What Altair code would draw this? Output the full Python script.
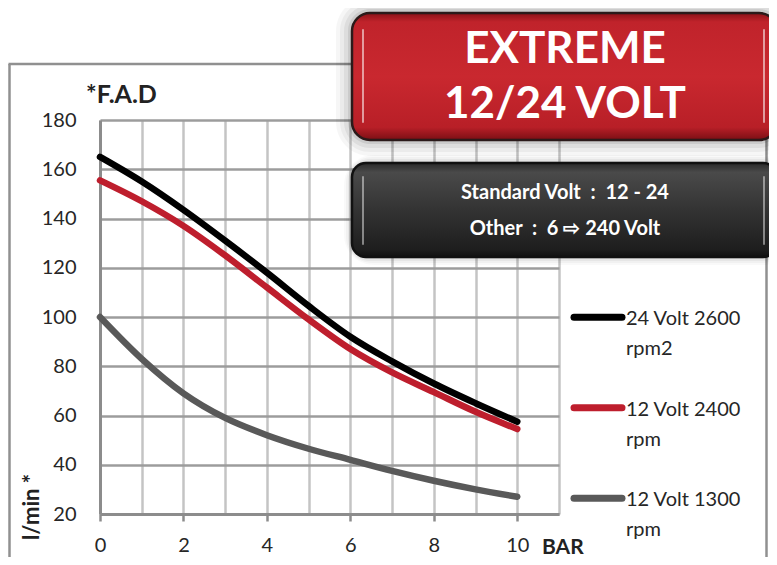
import altair as alt
import pandas as pd

# ---------------- data ----------------
pressure_bar = list(range(11))
series = ["24 Volt 2600 rpm2", "12 Volt 2400 rpm", "12 Volt 1300 rpm"]
flow_24v_2600 = [165, 155, 143.5, 131, 118, 104.5, 92, 82, 73, 65, 57.5]
flow_12v_2400 = [155.5, 147, 137, 125, 112, 99, 87, 77.5, 69.5, 61.5, 54.5]
flow_12v_1300 = [100, 83, 69, 59, 52, 46.5, 42, 37.5, 33.5, 30, 27]
legend_line1 = ["24 Volt 2600", "12 Volt 2400", "12 Volt 1300"]
legend_line2 = ["rpm2", "rpm", "rpm"]
series_colors = ["#000000", "#be1e2d", "#595959"]
x_grid_values = list(range(12))
y_grid_values = list(range(20, 181, 20))
title_lines = ["EXTREME", "12/24 VOLT"]
info_lines = ["Standard Volt\u00a0 :\u00a0 12 - 24", "Other\u00a0 :\u00a0 6 \u21e8 240 Volt"]

rows = []
for name, vals in zip(series, [flow_24v_2600, flow_12v_2400, flow_12v_1300]):
    for b, v in zip(pressure_bar, vals):
        rows.append({"series": name, "bar": b, "flow": v})
df = pd.DataFrame(rows)
legend_df = pd.DataFrame({"series": series, "line1": legend_line1, "line2": legend_line2})
one = pd.DataFrame({"k": [0]})

W, H = 459, 394
FONT = "Lato"
TXT = "#262626"

color_scale = alt.Scale(domain=series, range=series_colors)

x_axis = alt.Axis(
    values=x_grid_values, title=None, grid=True, gridColor="#c4c4c4", gridWidth=2.5,
    domainColor="#8c8c8c", domainWidth=3, tickColor="#8c8c8c", tickWidth=2.5, tickSize=7,
    tickOpacity={"condition": {"test": "datum.value % 2 == 0 && datum.value <= 10", "value": 1}, "value": 0},
    labelExpr="datum.value % 2 == 0 && datum.value <= 10 ? datum.label : ''",
    labelFont=FONT, labelFontSize=20, labelColor=TXT, labelPadding=14,
    labelOverlap=False, labelFlush=False, labelBound=False,
)
y_axis = alt.Axis(
    values=y_grid_values, title=None, grid=True, gridColor="#9c9c9c", gridWidth=2.5,
    domainColor="#8c8c8c", domainWidth=3, ticks=False,
    labelFont=FONT, labelFontSize=20, labelColor=TXT, labelPadding=24,
    labelOverlap=False, labelBound=False,
)

lines = alt.Chart(df).mark_line(
    interpolate="monotone", strokeWidth=6.5, strokeCap="round", strokeJoin="round"
).encode(
    x=alt.X("bar:Q", scale=alt.Scale(domain=[0, 11], nice=False, zero=False), axis=x_axis),
    y=alt.Y("flow:Q", scale=alt.Scale(domain=[20, 180], nice=False, zero=False), axis=y_axis),
    color=alt.Color("series:N", scale=color_scale, legend=None),
    detail="series:N",
)

# ---------------- legend (data driven) ----------------
ly = alt.Y("series:N", scale=alt.Scale(type="point", domain=series, range=[197.3, 378.3], padding=0), axis=None)
leg_sym = alt.Chart(legend_df).mark_rule(strokeWidth=7, strokeCap="round").encode(
    x=alt.value(474), x2=alt.value(522), y=ly,
    color=alt.Color("series:N", scale=color_scale, legend=None),
)
leg_t1 = alt.Chart(legend_df).mark_text(
    align="left", baseline="alphabetic", dy=8, font=FONT, fontSize=20, color=TXT
).encode(x=alt.value(526), y=ly, text="line1:N")
leg_t2 = alt.Chart(legend_df).mark_text(
    align="left", baseline="alphabetic", dy=38, font=FONT, fontSize=20, color=TXT
).encode(x=alt.value(526), y=ly, text="line2:N")

# ---------------- frame ----------------
frame_col = "#909090"
frame = [
    alt.Chart(one).mark_rule(color=frame_col, strokeWidth=2.5).encode(x=alt.value(-90.5), y=alt.value(-56), y2=alt.value(460)),
    alt.Chart(one).mark_rule(color=frame_col, strokeWidth=2.5).encode(x=alt.value(-91.5), x2=alt.value(667), y=alt.value(-56)),
    alt.Chart(one).mark_rule(color=frame_col, strokeWidth=2.5).encode(x=alt.value(666.5), y=alt.value(-56), y2=alt.value(460)),
]

# ---------------- boxes ----------------
def rect(x, x2, y, y2, **kw):
    return alt.Chart(one).mark_rect(**kw).encode(
        x=alt.value(x), x2=alt.value(x2), y=alt.value(y), y2=alt.value(y2))

shadows = []
for grow, op in [(16, 0.035), (12, 0.045), (8, 0.06), (4, 0.08)]:
    shadows.append(rect(252 - grow, 677 + grow, -107 - grow, 20 + grow, fill="#000000", opacity=op, cornerRadius=18 + grow))
    shadows.append(rect(252 - grow / 2, 677 + grow, 43 - grow / 2, 137 + grow / 2, fill="#000000", opacity=op * 0.7, cornerRadius=14 + grow))

red_grad = alt.LinearGradient(
    gradient="linear", x1=0, x2=0, y1=0, y2=1,
    stops=[
        alt.GradientStop(color="#8a1117", offset=0),
        alt.GradientStop(color="#c0232b", offset=0.07),
        alt.GradientStop(color="#c9282f", offset=0.5),
        alt.GradientStop(color="#b81f27", offset=0.9),
        alt.GradientStop(color="#7a0f14", offset=1),
    ],
)
dark_grad = alt.LinearGradient(
    gradient="linear", x1=0, x2=0, y1=0, y2=1,
    stops=[
        alt.GradientStop(color="#2a2a2a", offset=0),
        alt.GradientStop(color="#4a4a4a", offset=0.1),
        alt.GradientStop(color="#333333", offset=0.5),
        alt.GradientStop(color="#1e1e1e", offset=0.92),
        alt.GradientStop(color="#111111", offset=1),
    ],
)
red_box = rect(252, 677, -107, 20, fill=red_grad, stroke="#2b1a1a", strokeWidth=2.5, cornerRadius=18)
dark_box = rect(252, 677, 43, 137, fill=dark_grad, stroke="#111111", strokeWidth=2.5, cornerRadius=14)

highlights = [
    alt.Chart(one).mark_rule(color="#ffffff", opacity=0.55, strokeWidth=2, strokeCap="round").encode(x=alt.value(263), y=alt.value(-90), y2=alt.value(2)),
    alt.Chart(one).mark_rule(color="#ffffff", opacity=0.55, strokeWidth=2, strokeCap="round").encode(x=alt.value(664), y=alt.value(-90), y2=alt.value(2)),
    alt.Chart(one).mark_rule(color="#ffffff", opacity=0.45, strokeWidth=2, strokeCap="round").encode(x=alt.value(263), y=alt.value(57), y2=alt.value(124)),
    alt.Chart(one).mark_rule(color="#ffffff", opacity=0.45, strokeWidth=2, strokeCap="round").encode(x=alt.value(664), y=alt.value(57), y2=alt.value(124)),
]

def label(text, x, y, size, color="#ffffff", weight="bold", align="center", baseline="alphabetic", angle=0):
    kw = dict(align=align, baseline=baseline, font=FONT, fontSize=size, fontWeight=weight, color=color)
    if angle:
        kw["angle"] = angle
    return alt.Chart(one).mark_text(**kw).encode(x=alt.value(x), y=alt.value(y), text=alt.value(text))

title_texts = [
    label(title_lines[0], 465, -57, 44),
    label(title_lines[1], 465, -2, 44),
    label(info_lines[0], 465, 79, 20),
    label(info_lines[1], 465, 115, 20),
]

axis_titles = [
    label("*F.A.D", -14, -17, 25, color="#222222", align="left"),
    label("BAR", 442, 434, 21, color="#222222", align="left"),
    label("l/min *", -68, 387, 22, color="#222222", baseline="middle", angle=270),
]

chart = alt.layer(
    *frame, lines, leg_sym, leg_t1, leg_t2, *shadows, red_box, dark_box, *highlights, *title_texts, *axis_titles
).resolve_scale(y="independent").properties(
    width=W, height=H,
    autosize=alt.AutoSizeParams(type="none"),
    padding={"left": 92, "top": 112, "right": 210, "bottom": 43},
    background="#ffffff",
).configure_view(stroke=None)

chart.save("out.html", embed_options={"renderer": "svg", "actions": False})
